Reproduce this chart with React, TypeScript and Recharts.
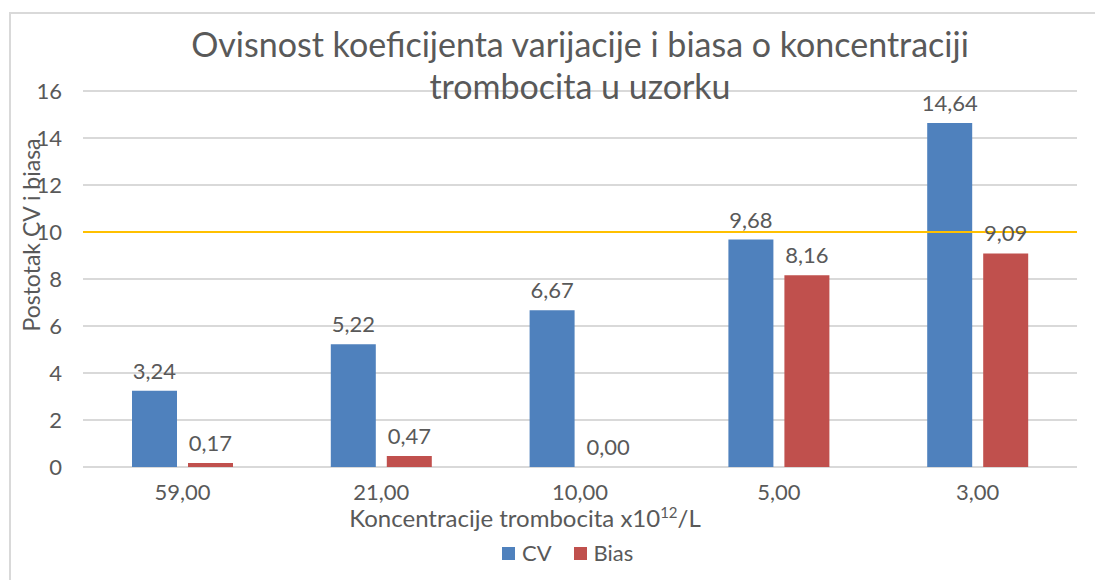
import {
  BarChart,
  Bar,
  XAxis,
  YAxis,
  CartesianGrid,
  ReferenceLine,
  LabelList,
} from "recharts";

const categories = ["59,00", "21,00", "10,00", "5,00", "3,00"];
const cvValues = [3.24, 5.22, 6.67, 9.68, 14.64];
const biasValues = [0.17, 0.47, 0.0, 8.16, 9.09];
const yTicks = [0, 2, 4, 6, 8, 10, 12, 14, 16];
const limit = 10;

const series = [
  { key: "CV", color: "#4f81bd" },
  { key: "Bias", color: "#c0504d" },
];

const FONT = "Lato, 'Noto Sans', sans-serif";
const GRAY = "#595959";

const fmt = (v: any) => Number(v).toFixed(2).replace(".", ",");

export default function App() {
  const data = categories.map((name, i) => ({
    name,
    CV: cvValues[i],
    Bias: biasValues[i],
  }));

  return (
    <div
      style={{
        position: "absolute",
        left: 0,
        top: 0,
        width: 1095,
        height: 580,
        background: "#fff",
        fontFamily: FONT,
        overflow: "hidden",
      }}
    >
      <div
        style={{
          position: "absolute",
          left: 9,
          top: 12,
          width: 1100,
          height: 600,
          border: "2px solid #d9d9d9",
        }}
      />

      <BarChart
        width={1095}
        height={580}
        data={data}
        margin={{ top: 91, right: 18, bottom: 0, left: 10 }}
        barGap={11}
        style={{ position: "absolute", left: 0, top: 0 }}
      >
        <CartesianGrid vertical={false} stroke="#d9d9d9" strokeWidth={2} />
        <XAxis
          dataKey="name"
          axisLine={false}
          tickLine={false}
          tickMargin={11}
          tick={{ fill: GRAY, fontSize: 22, fontFamily: FONT }}
          height={113}
        />
        <YAxis
          domain={[0, 16]}
          ticks={yTicks}
          axisLine={false}
          tickLine={false}
          tickMargin={15}
          width={73}
          tick={{ fill: GRAY, fontSize: 22, fontFamily: FONT }}
        />
        <Bar dataKey="CV" fill={series[0].color} barSize={45} isAnimationActive={false}>
          <LabelList
            dataKey="CV"
            position="top"
            offset={12}
            formatter={fmt}
            style={{ fill: GRAY, fontSize: 22, fontFamily: FONT }}
          />
        </Bar>
        <Bar
          dataKey="Bias"
          fill={series[1].color}
          barSize={45}
          minPointSize={0.01}
          isAnimationActive={false}
        >
          <LabelList
            dataKey="Bias"
            position="top"
            offset={12}
            formatter={fmt}
            style={{ fill: GRAY, fontSize: 22, fontFamily: FONT }}
          />
        </Bar>
        <ReferenceLine y={limit} stroke="#ffc000" strokeWidth={2} />
      </BarChart>

      <div
        style={{
          position: "absolute",
          left: 0,
          top: 23,
          width: 1160,
          textAlign: "center",
          color: GRAY,
          fontSize: 34,
          lineHeight: "42px",
        }}
      >
        Ovisnost koeficijenta varijacije i biasa o koncentraciji
        <br />
        trombocita u uzorku
      </div>

      <div
        style={{
          position: "absolute",
          left: 31,
          top: 235,
          transform: "translate(-50%, -50%) rotate(-90deg)",
          whiteSpace: "nowrap",
          color: GRAY,
          fontSize: 23,
        }}
      >
        Postotak CV i biasa
      </div>

      <div
        style={{
          position: "absolute",
          left: 525,
          top: 517,
          transform: "translate(-50%, -50%)",
          whiteSpace: "nowrap",
          color: GRAY,
          fontSize: 24,
        }}
      >
        Koncentracije trombocita x10<sup style={{ fontSize: 15 }}>12</sup>/L
      </div>

      <div
        style={{
          position: "absolute",
          left: 502,
          top: 540,
          display: "flex",
          alignItems: "center",
          gap: 8,
          color: GRAY,
          fontSize: 22,
          lineHeight: "26px",
        }}
      >
        {series.map((s) => (
          <div key={s.key} style={{ display: "flex", alignItems: "center", marginRight: 14 }}>
            <span
              style={{
                display: "inline-block",
                width: 13,
                height: 13,
                background: s.color,
                marginRight: 7,
              }}
            />
            {s.key}
          </div>
        ))}
      </div>
    </div>
  );
}
